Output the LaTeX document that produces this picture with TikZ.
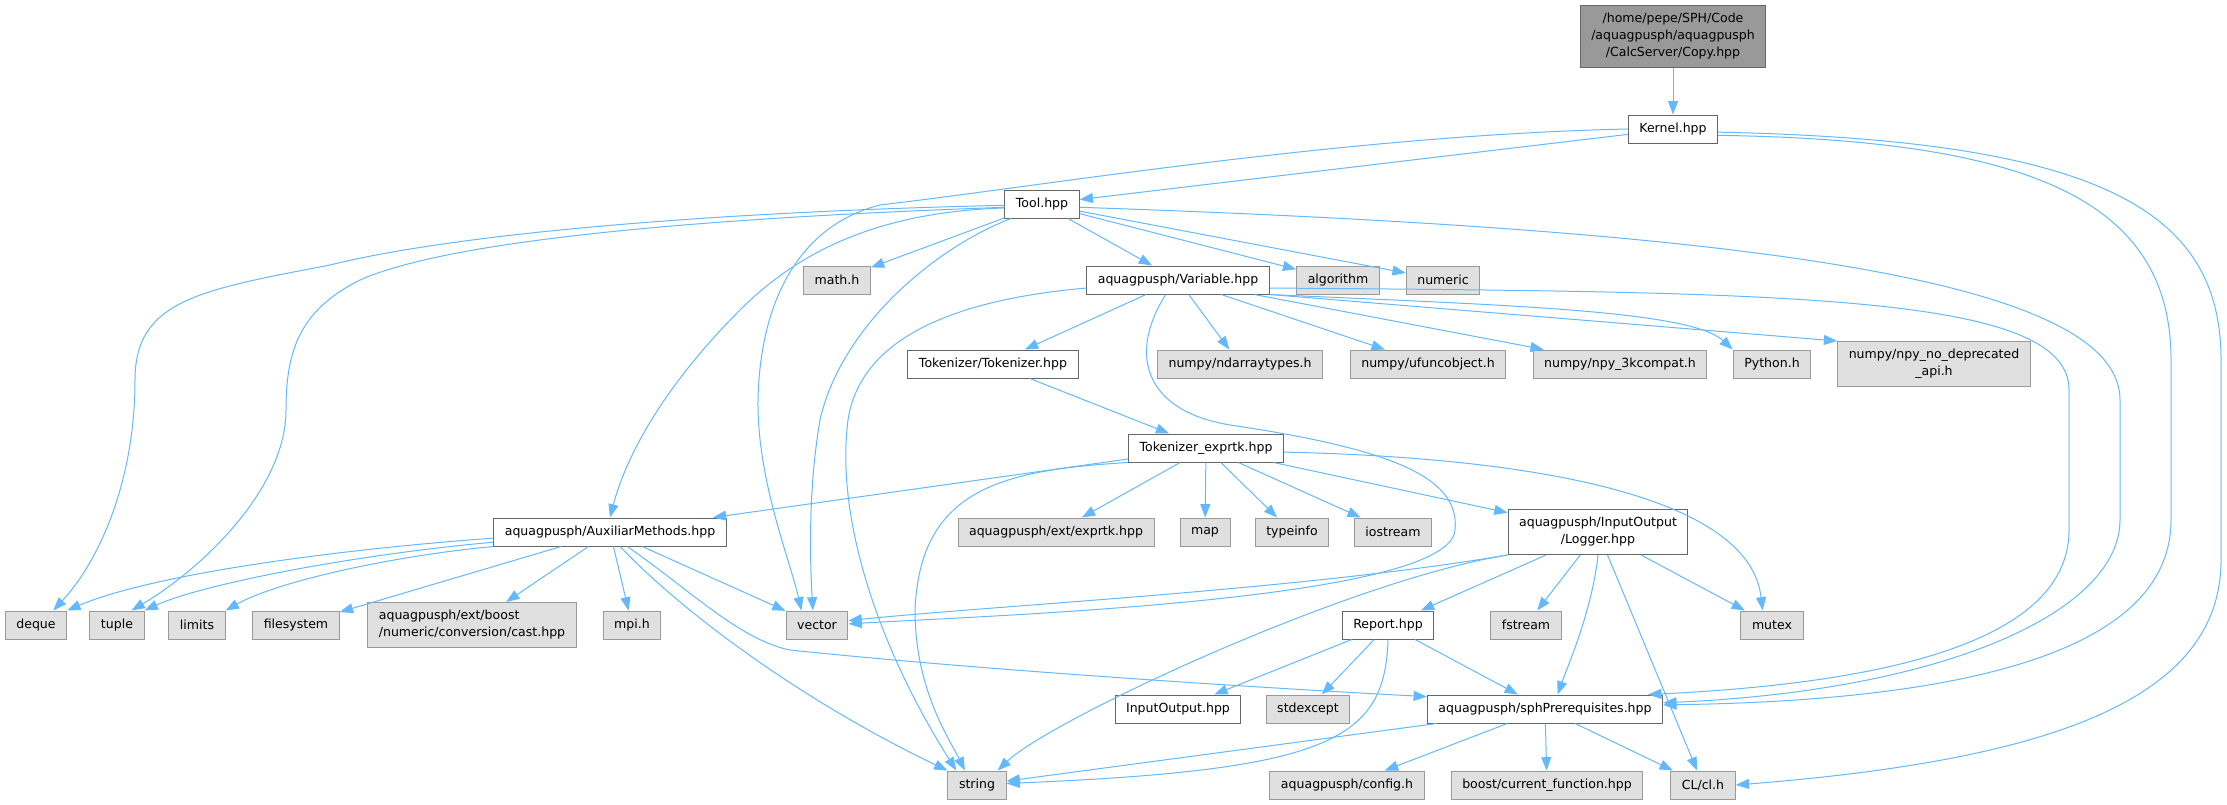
\documentclass[tikz,border=0pt]{standalone}
\usepackage{fontspec}
\setmainfont{DejaVu Sans}
\usetikzlibrary{arrows.meta}
\definecolor{edgeblue}{HTML}{63B8FF}
\definecolor{sysfill}{HTML}{E0E0E0}
\definecolor{sysline}{HTML}{999999}
\definecolor{docline}{HTML}{666666}
\definecolor{rootfill}{HTML}{999999}
\tikzset{file/.style={draw=docline,fill=white,line width=0.75pt,minimum height=21pt,
           inner xsep=8.3pt,inner ysep=1pt,align=center,font=\fontsize{9.4}{12.75}\selectfont},
         sys/.style={file,draw=sysline,fill=sysfill},
         root/.style={file,fill=rootfill},
         twoline/.style={minimum height=33.75pt},
         dep/.style={draw=edgeblue,line width=0.75pt,-{Triangle[length=10pt,width=7.5pt]}},
         }
\begin{document}
\begin{tikzpicture}[x=0.75pt,y=-0.75pt]
\useasboundingbox (0,0) rectangle (2227,804);
\node[root,minimum height=46.5pt] (copy) at (1673,36) {/home/pepe/SPH/Code\\/aquagpusph/aquagpusph\\/CalcServer/Copy.hpp};
\node[file] (kernel) at (1673,129) {Kernel.hpp};
\node[file] (tool) at (1042,204) {Tool.hpp};
\node[sys] (mathh) at (837,280) {math.h};
\node[file] (variable) at (1178,280) {aquagpusph/Variable.hpp};
\node[sys] (algorithm) at (1338,280) {algorithm};
\node[sys] (numeric) at (1443,280) {numeric};
\node[file] (tokenizer) at (993,364) {Tokenizer/Tokenizer.hpp};
\node[sys] (ndarray) at (1240,364) {numpy/ndarraytypes.h};
\node[sys] (ufunc) at (1428,364) {numpy/ufuncobject.h};
\node[sys] (kcompat) at (1620,364) {numpy/npy\_3kcompat.h};
\node[sys] (python) at (1772,364) {Python.h};
\node[sys,twoline] (nodep) at (1934,364) {numpy/npy\_no\_deprecated\\\_api.h};
\node[file] (texprtk) at (1206,448) {Tokenizer\_exprtk.hpp};
\node[file] (aux) at (610,532) {aquagpusph/AuxiliarMethods.hpp};
\node[sys] (exprtk) at (1056,532) {aquagpusph/ext/exprtk.hpp};
\node[sys] (map) at (1205,532) {map};
\node[sys] (typeinfo) at (1292,532) {typeinfo};
\node[sys] (iostream) at (1393,532) {iostream};
\node[file,twoline] (logger) at (1598,532) {aquagpusph/InputOutput\\/Logger.hpp};
\node[sys] (deque) at (36,625) {deque};
\node[sys] (tuple) at (117,625) {tuple};
\node[sys] (limits) at (197,625) {limits};
\node[sys] (filesystem) at (296,625) {filesystem};
\node[sys,twoline,align=left] (cast) at (472,625) {aquagpusph/ext/boost\\/numeric/conversion/cast.hpp};
\node[sys] (mpi) at (632,625) {mpi.h};
\node[sys] (vector) at (817,625) {vector};
\node[file] (report) at (1388,625) {Report.hpp};
\node[sys] (fstream) at (1526,625) {fstream};
\node[sys] (mutex) at (1772,625) {mutex};
\node[file] (inout) at (1178,709) {InputOutput.hpp};
\node[sys] (stdexcept) at (1308,709) {stdexcept};
\node[file] (sph) at (1545,709) {aquagpusph/sphPrerequisites.hpp};
\node[sys] (string) at (977,785) {string};
\node[sys] (config) at (1347,785) {aquagpusph/config.h};
\node[sys] (boost) at (1547,785) {boost/current\_function.hpp};
\node[sys] (cl) at (1703,785) {CL/cl.h};

\draw[dep] (copy) -- (kernel);
\draw[dep] (kernel) -- (tool);
\draw[dep] (kernel.west) .. controls (1350,135) and (1050,185) .. (880,205) .. controls (800,225) and (760,300) .. (758,400) .. controls (757,480) and (790,560) .. (vector.137);
\draw[dep] (kernel.356) .. controls (2100,140) and (2221,210) .. (2221,360) -- (2221,560) .. controls (2221,700) and (2050,760) .. (cl.east);
\draw[dep] (kernel.352) .. controls (2030,140) and (2171,200) .. (2171,360) -- (2171,520) .. controls (2171,640) and (2000,700) .. (sph.2);

\draw[dep] (tool) -- (mathh);
\draw[dep] (tool) -- (variable);
\draw[dep] (tool) -- (algorithm);
\draw[dep] (tool) -- (numeric);
\draw[dep] (tool.186) .. controls (880,212) and (800,250) .. (740,310) .. controls (660,390) and (625,460) .. (aux.north);
\draw[dep] (tool.205) .. controls (930,250) and (840,330) .. (820,420) .. controls (808,490) and (810,560) .. (vector.106);
\draw[dep] (tool.182) .. controls (700,212) and (450,235) .. (330,265) .. controls (200,290) and (135,300) .. (135,380) .. controls (135,480) and (100,560) .. (deque.40);
\draw[dep] (tool.185) .. controls (700,218) and (450,240) .. (360,280) .. controls (300,310) and (286,350) .. (286,410) .. controls (286,490) and (200,570) .. (tuple.45);
\draw[dep] (tool.355) .. controls (1750,230) and (2120,280) .. (2120,400) -- (2120,520) .. controls (2120,610) and (1950,690) .. (sph.3);

\draw[dep] (variable) -- (tokenizer);
\draw[dep] (variable) -- (ndarray);
\draw[dep] (variable) -- (ufunc);
\draw[dep] (variable) -- (kcompat);
\draw[dep] (variable.south east) .. controls (1500,305) and (1690,310) .. (python.north west);
\draw[dep] (variable.south east) -- (nodep.north west);
\draw[dep] (variable.355) .. controls (1800,292) and (2069,295) .. (2069,390) -- (2069,530) .. controls (2069,620) and (1950,680) .. (sph.8);
\draw[dep] (variable.185) .. controls (950,300) and (860,340) .. (848,420) .. controls (835,520) and (880,650) .. (string.145);
\draw[dep] (variable.230) .. controls (1130,350) and (1140,410) .. (1230,425) .. controls (1400,450) and (1460,480) .. (1455,530) .. controls (1450,600) and (1000,615) .. (vector.2);

\draw[dep] (tokenizer) -- (texprtk);

\draw[dep] (texprtk) -- (aux);
\draw[dep] (texprtk.south west) .. controls (1000,470) and (920,490) .. (915,610) .. controls (915,690) and (950,740) .. (string.130);
\draw[dep] (texprtk) -- (exprtk);
\draw[dep] (texprtk) -- (map);
\draw[dep] (texprtk) -- (typeinfo);
\draw[dep] (texprtk) -- (iostream);
\draw[dep] (texprtk) -- (logger);
\draw[dep] (texprtk.357) .. controls (1550,458) and (1750,500) .. (mutex.123);

\draw[dep] (logger.south west) .. controls (1300,590) and (1000,605) .. (vector.8);
\draw[dep] (logger.south west) .. controls (1350,580) and (1050,720) .. (string.35);
\draw[dep] (logger) -- (report);
\draw[dep] (logger) -- (fstream);
\draw[dep] (logger.south) .. controls (1592,610) and (1570,660) .. (sph.49);
\draw[dep] (logger) -- (cl);
\draw[dep] (logger) -- (mutex);

\draw[dep] (report) -- (inout);
\draw[dep] (report) -- (stdexcept);
\draw[dep] (report.south) .. controls (1385,740) and (1330,770) .. (string.3);
\draw[dep] (report) -- (sph);

\draw[dep] (aux.183) .. controls (330,550) and (150,575) .. (deque.north east);
\draw[dep] (aux.185) .. controls (350,555) and (200,585) .. (tuple.north east);
\draw[dep] (aux.south west) .. controls (400,555) and (280,580) .. (limits.north east);
\draw[dep] (aux) -- (filesystem);
\draw[dep] (aux) -- (cast);
\draw[dep] (aux) -- (mpi);
\draw[dep] (aux) -- (vector);
\draw[dep] (aux.305) .. controls (680,610) and (800,700) .. (string.north west);
\draw[dep] (aux.320) .. controls (690,590) and (740,640) .. (790,650) .. controls (1000,672) and (1300,690) .. (sph.174);

\draw[dep] (sph) -- (string);
\draw[dep] (sph) -- (config);
\draw[dep] (sph) -- (boost);
\draw[dep] (sph) -- (cl);
\end{tikzpicture}
\end{document}
